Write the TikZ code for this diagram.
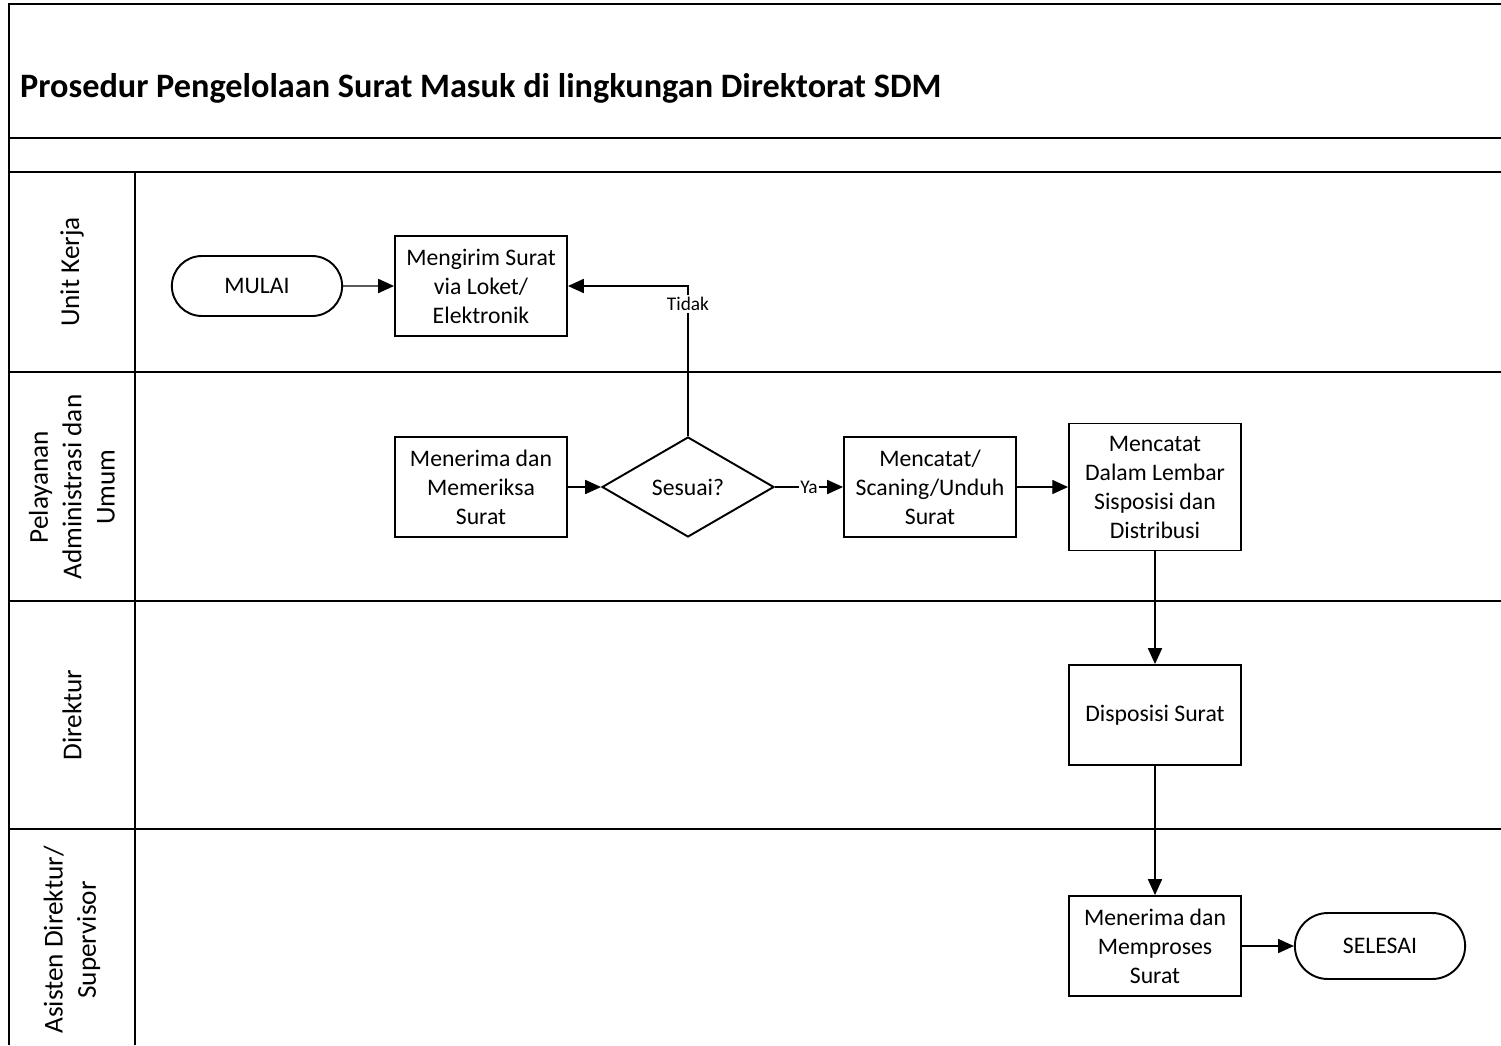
\documentclass[tikz,border=0pt]{standalone}
\usepackage{fontspec}
\setmainfont{Carlito}
\usetikzlibrary{positioning}
\usetikzlibrary{arrows.meta,shapes}
\usetikzlibrary{calc}

\tikzset{
  proses/.style={draw, line width=1.1pt, minimum width=3.44cm, minimum height=2cm,
    align=center, font=\fontsize{13.5}{16.5}\selectfont, inner sep=1pt},
  terminal/.style={draw, line width=1.1pt, rounded rectangle, minimum width=3.64cm,
    minimum height=1.2cm, font=\fontsize{13.5}{16.5}\selectfont},
  keputusan/.style={draw, line width=1.1pt, diamond, aspect=1.72, minimum width=3.44cm,
    minimum height=2cm, inner sep=0pt, font=\fontsize{13.5}{16.5}\selectfont},
  alur/.style={line width=0.8pt, -{Triangle[length=9pt,width=8pt]}},
  lajur/.style={line width=1.2pt},
  ket/.style={fill=white, inner sep=1pt, font=\fontsize{11}{13}\selectfont}
}

\begin{document}
\begin{tikzpicture}[x=0.02cm, y=-0.02cm]
 \useasboundingbox (0,0) rectangle (1501,1045);

 %swimlane
 \draw[lajur] (9,1045) -- (9,4) -- (1501,4);
 \foreach \y in {138,172,372,601,829} {
   \draw[lajur] (9,\y) -- (1501,\y);
 }
 \draw[lajur] (135,172) -- (135,1045);

 \node[anchor=west, font=\fontsize{19.5}{23}\selectfont\bfseries] (judul) at (14,88)
   {Prosedur Pengelolaan Surat Masuk di lingkungan Direktorat SDM};

 \foreach \y/\nama in {272/{Unit Kerja}, 487/{Pelayanan\\Administrasi dan\\Umum},
   715/{Direktur}, 940/{Asisten Direktur/\\Supervisor}} {
   \node[rotate=90, align=center, font=\fontsize{15.5}{19}\selectfont] at (72,\y) {\nama};
 }

 %level 1
 \node[terminal] (mulai) at (257,286) {MULAI};
 \node[proses] (kirim) at (481,286) {Mengirim Surat\\via Loket/\\Elektronik};

 %level 2
 \node[proses] (periksa) at (481,487) {Menerima dan\\Memeriksa\\Surat};
 \node[keputusan] (sesuai) at (688,487) {Sesuai?};
 \node[proses] (catat) at (930,487) {Mencatat/\\Scaning/Unduh\\Surat};
 \node[proses, minimum height=2.54cm] (lembar) at (1155,487)
   {Mencatat\\Dalam Lembar\\Sisposisi dan\\Distribusi};

 %level 3
 \node[proses] (disposisi) at (1155,715) {Disposisi Surat};

 %level 4
 \node[proses] (proses) at (1155,946) {Menerima dan\\Memproses\\Surat};
 \node[terminal, minimum height=1.32cm] (selesai) at (1380,946) {SELESAI};

 %arrow
 \draw[alur] (mulai) -- (kirim);
 \draw[alur] (periksa) -- (sesuai);
 \draw[alur] (sesuai.north) |- node[ket, pos=0.44] {Tidak} (kirim.east);
 \draw[alur] (sesuai) -- node[ket] {Ya} (catat);
 \draw[alur] (catat) -- (lembar);
 \draw[alur] (lembar) -- (disposisi);
 \draw[alur] (disposisi) -- (proses);
 \draw[alur] (proses) -- (selesai);
\end{tikzpicture}
\end{document}
